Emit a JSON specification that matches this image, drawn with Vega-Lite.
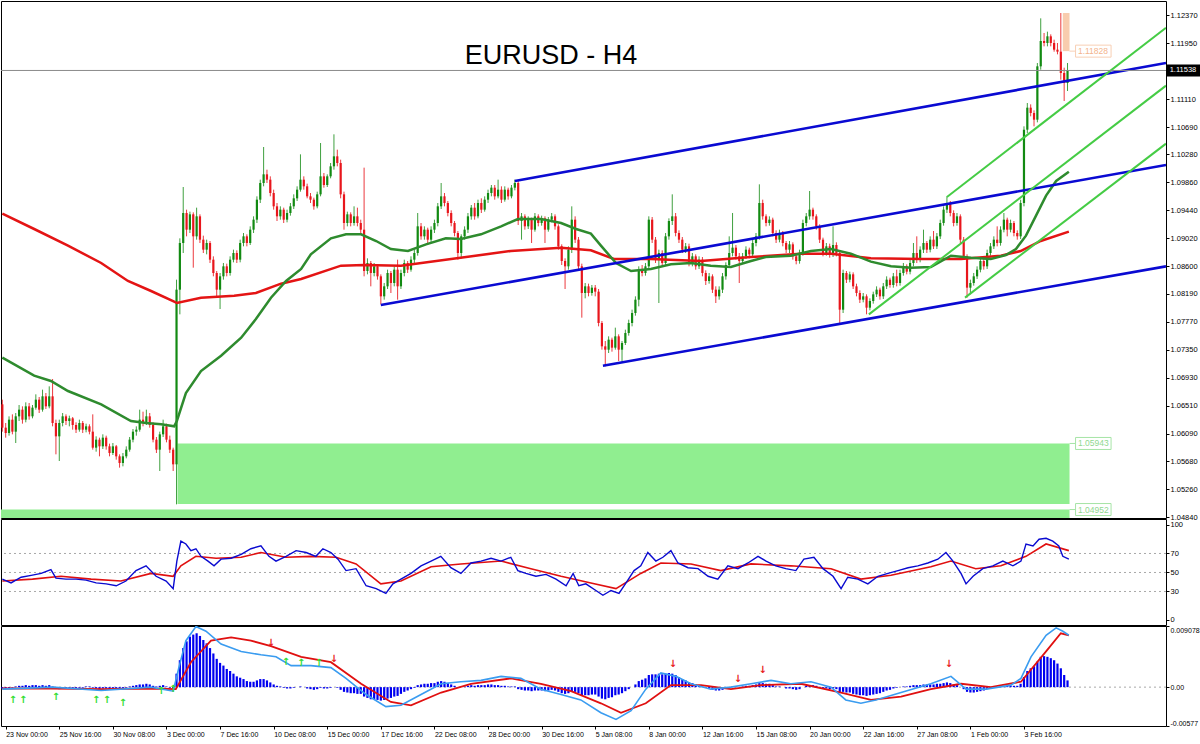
{
"$schema":"https://vega.github.io/schema/vega-lite/v6.json",
"padding":0,
"background":"white",
"spacing":1,
"bounds":"flush",
"config":{"view":{"stroke":"#000000","strokeWidth":1},"axis":{"labelFont":"Liberation Sans","labelColor":"#000000","tickColor":"#000000","grid":false,"domain":false},"text":{"font":"Liberation Sans"}},
"datasets":{
"c":[
{"i":0,"o":1.0653,"h":1.0660,"l":1.0612,"c":1.0618},{"i":1,"o":1.0618,"h":1.0625,"l":1.0603,"c":1.0610},{"i":2,"o":1.0610,"h":1.0635,"l":1.0606,"c":1.0630},{"i":3,"o":1.0630,"h":1.0638,"l":1.0608,"c":1.0612},{"i":4,"o":1.0612,"h":1.0640,"l":1.0595,"c":1.0635},{"i":5,"o":1.0635,"h":1.0652,"l":1.0628,"c":1.0645},{"i":6,"o":1.0645,"h":1.0650,"l":1.0624,"c":1.0630},{"i":7,"o":1.0630,"h":1.0656,"l":1.0626,"c":1.0650},{"i":8,"o":1.0650,"h":1.0655,"l":1.0630,"c":1.0635},{"i":9,"o":1.0635,"h":1.0652,"l":1.0632,"c":1.0648},
{"i":10,"o":1.0648,"h":1.0668,"l":1.0645,"c":1.0660},{"i":11,"o":1.0660,"h":1.0664,"l":1.0640,"c":1.0645},{"i":12,"o":1.0645,"h":1.0675,"l":1.0642,"c":1.0665},{"i":13,"o":1.0665,"h":1.0670,"l":1.0646,"c":1.0650},{"i":14,"o":1.0650,"h":1.0680,"l":1.0647,"c":1.0665},{"i":15,"o":1.0665,"h":1.0691,"l":1.0620,"c":1.0625},{"i":16,"o":1.0625,"h":1.0630,"l":1.0578,"c":1.0605},{"i":17,"o":1.0605,"h":1.0630,"l":1.0568,"c":1.0625},{"i":18,"o":1.0625,"h":1.0640,"l":1.0620,"c":1.0635},{"i":19,"o":1.0635,"h":1.0638,"l":1.0622,"c":1.0628},
{"i":20,"o":1.0628,"h":1.0636,"l":1.0620,"c":1.0632},{"i":21,"o":1.0632,"h":1.0634,"l":1.0615,"c":1.0622},{"i":22,"o":1.0622,"h":1.0626,"l":1.0610,"c":1.0615},{"i":23,"o":1.0615,"h":1.0630,"l":1.0612,"c":1.0625},{"i":24,"o":1.0625,"h":1.0628,"l":1.0610,"c":1.0615},{"i":25,"o":1.0615,"h":1.0624,"l":1.0611,"c":1.0620},{"i":26,"o":1.0620,"h":1.0623,"l":1.0608,"c":1.0612},{"i":27,"o":1.0612,"h":1.0638,"l":1.0585,"c":1.0588},{"i":28,"o":1.0588,"h":1.0605,"l":1.0582,"c":1.0600},{"i":29,"o":1.0600,"h":1.0603,"l":1.0575,"c":1.0590},
{"i":30,"o":1.0590,"h":1.0608,"l":1.0586,"c":1.0603},{"i":31,"o":1.0603,"h":1.0606,"l":1.0585,"c":1.0590},{"i":32,"o":1.0590,"h":1.0594,"l":1.0575,"c":1.0580},{"i":33,"o":1.0580,"h":1.0595,"l":1.0577,"c":1.0590},{"i":34,"o":1.0590,"h":1.0592,"l":1.0570,"c":1.0575},{"i":35,"o":1.0575,"h":1.0578,"l":1.0558,"c":1.0565},{"i":36,"o":1.0565,"h":1.0580,"l":1.0560,"c":1.0575},{"i":37,"o":1.0575,"h":1.0590,"l":1.0572,"c":1.0585},{"i":38,"o":1.0585,"h":1.0604,"l":1.0582,"c":1.0600},{"i":39,"o":1.0600,"h":1.0616,"l":1.0596,"c":1.0612},
{"i":40,"o":1.0612,"h":1.0620,"l":1.0606,"c":1.0615},{"i":41,"o":1.0615,"h":1.0645,"l":1.0612,"c":1.0630},{"i":42,"o":1.0630,"h":1.0642,"l":1.0620,"c":1.0625},{"i":43,"o":1.0625,"h":1.0645,"l":1.0622,"c":1.0635},{"i":44,"o":1.0635,"h":1.0640,"l":1.0618,"c":1.0622},{"i":45,"o":1.0622,"h":1.0626,"l":1.0596,"c":1.0600},{"i":46,"o":1.0600,"h":1.0604,"l":1.0580,"c":1.0585},{"i":47,"o":1.0585,"h":1.0612,"l":1.0553,"c":1.0608},{"i":48,"o":1.0608,"h":1.0630,"l":1.0604,"c":1.0620},{"i":49,"o":1.0620,"h":1.0624,"l":1.0596,"c":1.0600},
{"i":50,"o":1.0600,"h":1.0606,"l":1.0580,"c":1.0585},{"i":51,"o":1.0585,"h":1.0588,"l":1.0553,"c":1.0563},{"i":52,"o":1.0563,"h":1.0840,"l":1.0503,"c":1.0825},{"i":53,"o":1.0825,"h":1.0902,"l":1.0788,"c":1.0895},{"i":54,"o":1.0895,"h":1.0979,"l":1.0880,"c":1.0940},{"i":55,"o":1.0940,"h":1.0945,"l":1.0905,"c":1.0915},{"i":56,"o":1.0915,"h":1.0942,"l":1.0910,"c":1.0938},{"i":57,"o":1.0938,"h":1.0941,"l":1.0858,"c":1.0905},{"i":58,"o":1.0905,"h":1.0948,"l":1.0900,"c":1.0935},{"i":59,"o":1.0935,"h":1.0938,"l":1.0895,"c":1.0900},
{"i":60,"o":1.0900,"h":1.0906,"l":1.0880,"c":1.0885},{"i":61,"o":1.0885,"h":1.0900,"l":1.0878,"c":1.0895},{"i":62,"o":1.0895,"h":1.0898,"l":1.0865,"c":1.0870},{"i":63,"o":1.0870,"h":1.0875,"l":1.0845,"c":1.0850},{"i":64,"o":1.0850,"h":1.0853,"l":1.0815,"c":1.0825},{"i":65,"o":1.0825,"h":1.0850,"l":1.0796,"c":1.0845},{"i":66,"o":1.0845,"h":1.0865,"l":1.0840,"c":1.0860},{"i":67,"o":1.0860,"h":1.0864,"l":1.0845,"c":1.0850},{"i":68,"o":1.0850,"h":1.0875,"l":1.0846,"c":1.0870},{"i":69,"o":1.0870,"h":1.0885,"l":1.0866,"c":1.0880},
{"i":70,"o":1.0880,"h":1.0884,"l":1.0865,"c":1.0870},{"i":71,"o":1.0870,"h":1.0900,"l":1.0866,"c":1.0895},{"i":72,"o":1.0895,"h":1.0910,"l":1.0890,"c":1.0905},{"i":73,"o":1.0905,"h":1.0908,"l":1.0890,"c":1.0895},{"i":74,"o":1.0895,"h":1.0920,"l":1.0892,"c":1.0915},{"i":75,"o":1.0915,"h":1.0935,"l":1.0910,"c":1.0930},{"i":76,"o":1.0930,"h":1.0965,"l":1.0925,"c":1.0960},{"i":77,"o":1.0960,"h":1.0990,"l":1.0955,"c":1.0985},{"i":78,"o":1.0985,"h":1.1039,"l":1.0980,"c":1.0998},{"i":79,"o":1.0998,"h":1.1005,"l":1.0985,"c":1.0990},
{"i":80,"o":1.0990,"h":1.0995,"l":1.0965,"c":1.0970},{"i":81,"o":1.0970,"h":1.0975,"l":1.0945,"c":1.0950},{"i":82,"o":1.0950,"h":1.0955,"l":1.0928,"c":1.0935},{"i":83,"o":1.0935,"h":1.0950,"l":1.0930,"c":1.0945},{"i":84,"o":1.0945,"h":1.0948,"l":1.0925,"c":1.0930},{"i":85,"o":1.0930,"h":1.0945,"l":1.0926,"c":1.0940},{"i":86,"o":1.0940,"h":1.0955,"l":1.0936,"c":1.0950},{"i":87,"o":1.0950,"h":1.0968,"l":1.0946,"c":1.0962},{"i":88,"o":1.0962,"h":1.0980,"l":1.0958,"c":1.0975},{"i":89,"o":1.0975,"h":1.1028,"l":1.0972,"c":1.0990},
{"i":90,"o":1.0990,"h":1.0995,"l":1.0975,"c":1.0980},{"i":91,"o":1.0980,"h":1.0984,"l":1.0962,"c":1.0965},{"i":92,"o":1.0965,"h":1.0970,"l":1.0955,"c":1.0960},{"i":93,"o":1.0960,"h":1.0963,"l":1.0945,"c":1.0950},{"i":94,"o":1.0950,"h":1.0972,"l":1.0947,"c":1.0968},{"i":95,"o":1.0968,"h":1.1045,"l":1.0965,"c":1.0995},{"i":96,"o":1.0995,"h":1.1000,"l":1.0978,"c":1.0982},{"i":97,"o":1.0982,"h":1.0998,"l":1.0979,"c":1.0995},{"i":98,"o":1.0995,"h":1.1015,"l":1.0992,"c":1.1010},{"i":99,"o":1.1010,"h":1.1058,"l":1.1005,"c":1.1025},
{"i":100,"o":1.1025,"h":1.1035,"l":1.1010,"c":1.1015},{"i":101,"o":1.1015,"h":1.1020,"l":1.0962,"c":1.0968},{"i":102,"o":1.0968,"h":1.0972,"l":1.0915,"c":1.0925},{"i":103,"o":1.0925,"h":1.0942,"l":1.0920,"c":1.0938},{"i":104,"o":1.0938,"h":1.0941,"l":1.0920,"c":1.0925},{"i":105,"o":1.0925,"h":1.0950,"l":1.0921,"c":1.0935},{"i":106,"o":1.0935,"h":1.0948,"l":1.0920,"c":1.0925},{"i":107,"o":1.0925,"h":1.0930,"l":1.0910,"c":1.0915},{"i":108,"o":1.0915,"h":1.1008,"l":1.0845,"c":1.0853},{"i":109,"o":1.0853,"h":1.0872,"l":1.0848,"c":1.0865},
{"i":110,"o":1.0865,"h":1.0868,"l":1.0830,"c":1.0850},{"i":111,"o":1.0850,"h":1.0865,"l":1.0845,"c":1.0860},{"i":112,"o":1.0860,"h":1.0863,"l":1.0840,"c":1.0845},{"i":113,"o":1.0845,"h":1.0848,"l":1.0803,"c":1.0815},{"i":114,"o":1.0815,"h":1.0835,"l":1.0810,"c":1.0830},{"i":115,"o":1.0830,"h":1.0855,"l":1.0826,"c":1.0850},{"i":116,"o":1.0850,"h":1.0853,"l":1.0820,"c":1.0835},{"i":117,"o":1.0835,"h":1.0860,"l":1.0830,"c":1.0855},{"i":118,"o":1.0855,"h":1.0870,"l":1.0810,"c":1.0830},{"i":119,"o":1.0830,"h":1.0855,"l":1.0826,"c":1.0850},
{"i":120,"o":1.0850,"h":1.0870,"l":1.0845,"c":1.0865},{"i":121,"o":1.0865,"h":1.0868,"l":1.0850,"c":1.0855},{"i":122,"o":1.0855,"h":1.0875,"l":1.0852,"c":1.0870},{"i":123,"o":1.0870,"h":1.0885,"l":1.0865,"c":1.0880},{"i":124,"o":1.0880,"h":1.0940,"l":1.0876,"c":1.0920},{"i":125,"o":1.0920,"h":1.0925,"l":1.0900,"c":1.0905},{"i":126,"o":1.0905,"h":1.0920,"l":1.0900,"c":1.0915},{"i":127,"o":1.0915,"h":1.0918,"l":1.0895,"c":1.0900},{"i":128,"o":1.0900,"h":1.0920,"l":1.0896,"c":1.0915},{"i":129,"o":1.0915,"h":1.0930,"l":1.0910,"c":1.0925},
{"i":130,"o":1.0925,"h":1.0955,"l":1.0920,"c":1.0950},{"i":131,"o":1.0950,"h":1.0985,"l":1.0946,"c":1.0965},{"i":132,"o":1.0965,"h":1.0970,"l":1.0950,"c":1.0955},{"i":133,"o":1.0955,"h":1.0958,"l":1.0935,"c":1.0940},{"i":134,"o":1.0940,"h":1.0944,"l":1.0920,"c":1.0925},{"i":135,"o":1.0925,"h":1.0928,"l":1.0905,"c":1.0910},{"i":136,"o":1.0910,"h":1.0913,"l":1.0870,"c":1.0880},{"i":137,"o":1.0880,"h":1.0908,"l":1.0872,"c":1.0905},{"i":138,"o":1.0905,"h":1.0920,"l":1.0900,"c":1.0915},{"i":139,"o":1.0915,"h":1.0940,"l":1.0910,"c":1.0935},
{"i":140,"o":1.0935,"h":1.0952,"l":1.0930,"c":1.0948},{"i":141,"o":1.0948,"h":1.0955,"l":1.0930,"c":1.0935},{"i":142,"o":1.0935,"h":1.0960,"l":1.0932,"c":1.0955},{"i":143,"o":1.0955,"h":1.0962,"l":1.0940,"c":1.0945},{"i":144,"o":1.0945,"h":1.0965,"l":1.0942,"c":1.0960},{"i":145,"o":1.0960,"h":1.0975,"l":1.0955,"c":1.0970},{"i":146,"o":1.0970,"h":1.0982,"l":1.0965,"c":1.0978},{"i":147,"o":1.0978,"h":1.0982,"l":1.0960,"c":1.0965},{"i":148,"o":1.0965,"h":1.0990,"l":1.0962,"c":1.0975},{"i":149,"o":1.0975,"h":1.0980,"l":1.0955,"c":1.0960},
{"i":150,"o":1.0960,"h":1.0980,"l":1.0957,"c":1.0975},{"i":151,"o":1.0975,"h":1.0978,"l":1.0960,"c":1.0965},{"i":152,"o":1.0965,"h":1.0982,"l":1.0962,"c":1.0978},{"i":153,"o":1.0978,"h":1.0990,"l":1.0974,"c":1.0985},{"i":154,"o":1.0985,"h":1.0988,"l":1.0922,"c":1.0928},{"i":155,"o":1.0928,"h":1.0940,"l":1.0900,"c":1.0935},{"i":156,"o":1.0935,"h":1.0938,"l":1.0915,"c":1.0920},{"i":157,"o":1.0920,"h":1.0935,"l":1.0916,"c":1.0930},{"i":158,"o":1.0930,"h":1.0933,"l":1.0895,"c":1.0915},{"i":159,"o":1.0915,"h":1.0940,"l":1.0912,"c":1.0935},
{"i":160,"o":1.0935,"h":1.0938,"l":1.0920,"c":1.0925},{"i":161,"o":1.0925,"h":1.0936,"l":1.0921,"c":1.0932},{"i":162,"o":1.0932,"h":1.0935,"l":1.0895,"c":1.0915},{"i":163,"o":1.0915,"h":1.0934,"l":1.0912,"c":1.0930},{"i":164,"o":1.0930,"h":1.0940,"l":1.0926,"c":1.0935},{"i":165,"o":1.0935,"h":1.0938,"l":1.0915,"c":1.0920},{"i":166,"o":1.0920,"h":1.0923,"l":1.0885,"c":1.0890},{"i":167,"o":1.0890,"h":1.0893,"l":1.0862,"c":1.0868},{"i":168,"o":1.0868,"h":1.0872,"l":1.0826,"c":1.0860},{"i":169,"o":1.0860,"h":1.0890,"l":1.0855,"c":1.0885},
{"i":170,"o":1.0885,"h":1.0950,"l":1.0880,"c":1.0930},{"i":171,"o":1.0930,"h":1.0935,"l":1.0895,"c":1.0900},{"i":172,"o":1.0900,"h":1.0904,"l":1.0855,"c":1.0860},{"i":173,"o":1.0860,"h":1.0864,"l":1.0783,"c":1.0820},{"i":174,"o":1.0820,"h":1.0835,"l":1.0812,"c":1.0830},{"i":175,"o":1.0830,"h":1.0834,"l":1.0815,"c":1.0820},{"i":176,"o":1.0820,"h":1.0832,"l":1.0816,"c":1.0828},{"i":177,"o":1.0828,"h":1.0832,"l":1.0815,"c":1.0822},{"i":178,"o":1.0822,"h":1.0826,"l":1.0770,"c":1.0775},{"i":179,"o":1.0775,"h":1.0778,"l":1.0735,"c":1.0740},
{"i":180,"o":1.0740,"h":1.0748,"l":1.0710,"c":1.0735},{"i":181,"o":1.0735,"h":1.0755,"l":1.0730,"c":1.0750},{"i":182,"o":1.0750,"h":1.0753,"l":1.0732,"c":1.0738},{"i":183,"o":1.0738,"h":1.0768,"l":1.0735,"c":1.0755},{"i":184,"o":1.0755,"h":1.0758,"l":1.0718,"c":1.0735},{"i":185,"o":1.0735,"h":1.0748,"l":1.0717,"c":1.0745},{"i":186,"o":1.0745,"h":1.0765,"l":1.0742,"c":1.0760},{"i":187,"o":1.0760,"h":1.0780,"l":1.0756,"c":1.0775},{"i":188,"o":1.0775,"h":1.0795,"l":1.0770,"c":1.0790},{"i":189,"o":1.0790,"h":1.0815,"l":1.0786,"c":1.0810},
{"i":190,"o":1.0810,"h":1.0860,"l":1.0800,"c":1.0855},{"i":191,"o":1.0855,"h":1.0862,"l":1.0845,"c":1.0850},{"i":192,"o":1.0850,"h":1.0865,"l":1.0846,"c":1.0860},{"i":193,"o":1.0860,"h":1.0935,"l":1.0856,"c":1.0930},{"i":194,"o":1.0930,"h":1.0934,"l":1.0895,"c":1.0900},{"i":195,"o":1.0900,"h":1.0904,"l":1.0865,"c":1.0870},{"i":196,"o":1.0870,"h":1.0885,"l":1.0805,"c":1.0880},{"i":197,"o":1.0880,"h":1.0884,"l":1.0860,"c":1.0865},{"i":198,"o":1.0865,"h":1.0910,"l":1.0862,"c":1.0905},{"i":199,"o":1.0905,"h":1.0932,"l":1.0900,"c":1.0928},
{"i":200,"o":1.0928,"h":1.0968,"l":1.0922,"c":1.0935},{"i":201,"o":1.0935,"h":1.0940,"l":1.0905,"c":1.0910},{"i":202,"o":1.0910,"h":1.0914,"l":1.0895,"c":1.0900},{"i":203,"o":1.0900,"h":1.0904,"l":1.0880,"c":1.0885},{"i":204,"o":1.0885,"h":1.0895,"l":1.0880,"c":1.0890},{"i":205,"o":1.0890,"h":1.0894,"l":1.0860,"c":1.0865},{"i":206,"o":1.0865,"h":1.0880,"l":1.0860,"c":1.0875},{"i":207,"o":1.0875,"h":1.0878,"l":1.0855,"c":1.0860},{"i":208,"o":1.0860,"h":1.0875,"l":1.0856,"c":1.0870},{"i":209,"o":1.0870,"h":1.0874,"l":1.0845,"c":1.0850},
{"i":210,"o":1.0850,"h":1.0854,"l":1.0832,"c":1.0838},{"i":211,"o":1.0838,"h":1.0850,"l":1.0834,"c":1.0845},{"i":212,"o":1.0845,"h":1.0848,"l":1.0820,"c":1.0825},{"i":213,"o":1.0825,"h":1.0830,"l":1.0805,"c":1.0815},{"i":214,"o":1.0815,"h":1.0830,"l":1.0810,"c":1.0825},{"i":215,"o":1.0825,"h":1.0850,"l":1.0820,"c":1.0845},{"i":216,"o":1.0845,"h":1.0866,"l":1.0840,"c":1.0862},{"i":217,"o":1.0862,"h":1.0905,"l":1.0858,"c":1.0880},{"i":218,"o":1.0880,"h":1.0940,"l":1.0875,"c":1.0888},{"i":219,"o":1.0888,"h":1.0892,"l":1.0870,"c":1.0875},
{"i":220,"o":1.0875,"h":1.0880,"l":1.0835,"c":1.0868},{"i":221,"o":1.0868,"h":1.0880,"l":1.0864,"c":1.0875},{"i":222,"o":1.0875,"h":1.0890,"l":1.0871,"c":1.0885},{"i":223,"o":1.0885,"h":1.0888,"l":1.0872,"c":1.0878},{"i":224,"o":1.0878,"h":1.0900,"l":1.0874,"c":1.0895},{"i":225,"o":1.0895,"h":1.0910,"l":1.0890,"c":1.0905},{"i":226,"o":1.0905,"h":1.0983,"l":1.0900,"c":1.0955},{"i":227,"o":1.0955,"h":1.0960,"l":1.0930,"c":1.0935},{"i":228,"o":1.0935,"h":1.0938,"l":1.0920,"c":1.0925},{"i":229,"o":1.0925,"h":1.0935,"l":1.0921,"c":1.0930},
{"i":230,"o":1.0930,"h":1.0933,"l":1.0905,"c":1.0910},{"i":231,"o":1.0910,"h":1.0914,"l":1.0895,"c":1.0900},{"i":232,"o":1.0900,"h":1.0915,"l":1.0896,"c":1.0910},{"i":233,"o":1.0910,"h":1.0913,"l":1.0890,"c":1.0895},{"i":234,"o":1.0895,"h":1.0898,"l":1.0880,"c":1.0885},{"i":235,"o":1.0885,"h":1.0898,"l":1.0880,"c":1.0893},{"i":236,"o":1.0893,"h":1.0896,"l":1.0870,"c":1.0875},{"i":237,"o":1.0875,"h":1.0880,"l":1.0863,"c":1.0868},{"i":238,"o":1.0868,"h":1.0885,"l":1.0864,"c":1.0880},{"i":239,"o":1.0880,"h":1.0930,"l":1.0876,"c":1.0925},
{"i":240,"o":1.0925,"h":1.0940,"l":1.0920,"c":1.0935},{"i":241,"o":1.0935,"h":1.0973,"l":1.0930,"c":1.0945},{"i":242,"o":1.0945,"h":1.0948,"l":1.0930,"c":1.0935},{"i":243,"o":1.0935,"h":1.0938,"l":1.0915,"c":1.0920},{"i":244,"o":1.0920,"h":1.0923,"l":1.0895,"c":1.0900},{"i":245,"o":1.0900,"h":1.0903,"l":1.0875,"c":1.0880},{"i":246,"o":1.0880,"h":1.0895,"l":1.0876,"c":1.0890},{"i":247,"o":1.0890,"h":1.0894,"l":1.0873,"c":1.0878},{"i":248,"o":1.0878,"h":1.0920,"l":1.0874,"c":1.0892},{"i":249,"o":1.0892,"h":1.0896,"l":1.0875,"c":1.0880},
{"i":250,"o":1.0880,"h":1.0884,"l":1.0775,"c":1.0795},{"i":251,"o":1.0795,"h":1.0855,"l":1.0790,"c":1.0850},{"i":252,"o":1.0850,"h":1.0853,"l":1.0835,"c":1.0840},{"i":253,"o":1.0840,"h":1.0852,"l":1.0836,"c":1.0848},{"i":254,"o":1.0848,"h":1.0851,"l":1.0826,"c":1.0830},{"i":255,"o":1.0830,"h":1.0834,"l":1.0815,"c":1.0820},{"i":256,"o":1.0820,"h":1.0824,"l":1.0805,"c":1.0810},{"i":257,"o":1.0810,"h":1.0820,"l":1.0806,"c":1.0815},{"i":258,"o":1.0815,"h":1.0818,"l":1.0788,"c":1.0798},{"i":259,"o":1.0798,"h":1.0812,"l":1.0794,"c":1.0808},
{"i":260,"o":1.0808,"h":1.0822,"l":1.0804,"c":1.0818},{"i":261,"o":1.0818,"h":1.0830,"l":1.0814,"c":1.0825},{"i":262,"o":1.0825,"h":1.0828,"l":1.0810,"c":1.0815},{"i":263,"o":1.0815,"h":1.0835,"l":1.0811,"c":1.0830},{"i":264,"o":1.0830,"h":1.0845,"l":1.0826,"c":1.0840},{"i":265,"o":1.0840,"h":1.0843,"l":1.0828,"c":1.0832},{"i":266,"o":1.0832,"h":1.0850,"l":1.0828,"c":1.0845},{"i":267,"o":1.0845,"h":1.0855,"l":1.0830,"c":1.0835},{"i":268,"o":1.0835,"h":1.0855,"l":1.0831,"c":1.0850},{"i":269,"o":1.0850,"h":1.0865,"l":1.0846,"c":1.0860},
{"i":270,"o":1.0860,"h":1.0863,"l":1.0848,"c":1.0852},{"i":271,"o":1.0852,"h":1.0870,"l":1.0848,"c":1.0865},{"i":272,"o":1.0865,"h":1.0895,"l":1.0860,"c":1.0880},{"i":273,"o":1.0880,"h":1.0905,"l":1.0865,"c":1.0870},{"i":274,"o":1.0870,"h":1.0890,"l":1.0866,"c":1.0885},{"i":275,"o":1.0885,"h":1.0915,"l":1.0880,"c":1.0895},{"i":276,"o":1.0895,"h":1.0898,"l":1.0880,"c":1.0885},{"i":277,"o":1.0885,"h":1.0905,"l":1.0881,"c":1.0900},{"i":278,"o":1.0900,"h":1.0913,"l":1.0886,"c":1.0890},{"i":279,"o":1.0890,"h":1.0910,"l":1.0886,"c":1.0905},
{"i":280,"o":1.0905,"h":1.0930,"l":1.0901,"c":1.0925},{"i":281,"o":1.0925,"h":1.0950,"l":1.0921,"c":1.0945},{"i":282,"o":1.0945,"h":1.0965,"l":1.0940,"c":1.0955},{"i":283,"o":1.0955,"h":1.0958,"l":1.0935,"c":1.0940},{"i":284,"o":1.0940,"h":1.0944,"l":1.0920,"c":1.0925},{"i":285,"o":1.0925,"h":1.0940,"l":1.0921,"c":1.0935},{"i":286,"o":1.0935,"h":1.0938,"l":1.0895,"c":1.0900},{"i":287,"o":1.0900,"h":1.0904,"l":1.0870,"c":1.0875},{"i":288,"o":1.0875,"h":1.0878,"l":1.0813,"c":1.0828},{"i":289,"o":1.0828,"h":1.0840,"l":1.0818,"c":1.0835},
{"i":290,"o":1.0835,"h":1.0850,"l":1.0831,"c":1.0845},{"i":291,"o":1.0845,"h":1.0860,"l":1.0841,"c":1.0855},{"i":292,"o":1.0855,"h":1.0872,"l":1.0851,"c":1.0868},{"i":293,"o":1.0868,"h":1.0871,"l":1.0855,"c":1.0860},{"i":294,"o":1.0860,"h":1.0885,"l":1.0856,"c":1.0880},{"i":295,"o":1.0880,"h":1.0895,"l":1.0876,"c":1.0890},{"i":296,"o":1.0890,"h":1.0905,"l":1.0886,"c":1.0900},{"i":297,"o":1.0900,"h":1.0920,"l":1.0890,"c":1.0895},{"i":298,"o":1.0895,"h":1.0920,"l":1.0891,"c":1.0915},{"i":299,"o":1.0915,"h":1.0940,"l":1.0911,"c":1.0930},
{"i":300,"o":1.0930,"h":1.0933,"l":1.0905,"c":1.0915},{"i":301,"o":1.0915,"h":1.0930,"l":1.0911,"c":1.0925},{"i":302,"o":1.0925,"h":1.0928,"l":1.0905,"c":1.0910},{"i":303,"o":1.0910,"h":1.0914,"l":1.0900,"c":1.0905},{"i":304,"o":1.0905,"h":1.0960,"l":1.0901,"c":1.0955},{"i":305,"o":1.0955,"h":1.1070,"l":1.0950,"c":1.1065},{"i":306,"o":1.1065,"h":1.1105,"l":1.1060,"c":1.1098},{"i":307,"o":1.1098,"h":1.1103,"l":1.1085,"c":1.1090},{"i":308,"o":1.1090,"h":1.1094,"l":1.1070,"c":1.1080},{"i":309,"o":1.1080,"h":1.1165,"l":1.1076,"c":1.1160},
{"i":310,"o":1.1160,"h":1.1232,"l":1.1155,"c":1.1198},{"i":311,"o":1.1198,"h":1.1210,"l":1.1190,"c":1.1195},{"i":312,"o":1.1195,"h":1.1212,"l":1.1190,"c":1.1205},{"i":313,"o":1.1205,"h":1.1208,"l":1.1190,"c":1.1195},{"i":314,"o":1.1195,"h":1.1200,"l":1.1182,"c":1.1185},{"i":315,"o":1.1185,"h":1.1195,"l":1.1178,"c":1.1182},{"i":316,"o":1.1182,"h":1.1240,"l":1.1140,"c":1.1150},{"i":317,"o":1.1150,"h":1.1158,"l":1.1108,"c":1.1135},{"i":318,"o":1.1135,"h":1.1165,"l":1.1123,"c":1.1154}
],
"mar":[{"i":0,"p":1.0939},{"i":9.5,"p":1.0916},{"i":19.6,"p":1.0891},{"i":29.5,"p":1.0865},{"i":37.5,"p":1.0838},{"i":44.4,"p":1.0823},{"i":51.3,"p":1.0807},{"i":52.1,"p":1.0805},{"i":59.3,"p":1.0813},{"i":69.2,"p":1.0816},{"i":75.7,"p":1.082},{"i":83.2,"p":1.0834},{"i":89.2,"p":1.0841},{"i":101.1,"p":1.0861},{"i":108,"p":1.0862},{"i":119,"p":1.0861},{"i":134,"p":1.0871},{"i":151.8,"p":1.0883},{"i":166.8,"p":1.0888},{"i":175.7,"p":1.0884},{"i":182.6,"p":1.0871},{"i":193.6,"p":1.0871},{"i":208.6,"p":1.0868},{"i":223.5,"p":1.0874},{"i":238.4,"p":1.0879},{"i":247.4,"p":1.0879},{"i":259.3,"p":1.0872},{"i":274.2,"p":1.0871},{"i":286.2,"p":1.0871},{"i":298.1,"p":1.0876},{"i":304,"p":1.0883},{"i":310,"p":1.0898},{"i":318.4,"p":1.0912}],
"mag":[{"i":0,"p":1.0723},{"i":9.5,"p":1.0696},{"i":14.5,"p":1.0688},{"i":19.6,"p":1.0673},{"i":29.5,"p":1.0653},{"i":38.4,"p":1.0628},{"i":42.9,"p":1.0625},{"i":47.4,"p":1.0623},{"i":51.3,"p":1.062},{"i":52.1,"p":1.0628},{"i":54.8,"p":1.067},{"i":59.3,"p":1.0703},{"i":65.3,"p":1.0726},{"i":71.3,"p":1.0753},{"i":75.7,"p":1.0781},{"i":80.2,"p":1.0813},{"i":84.7,"p":1.0838},{"i":89.2,"p":1.0856},{"i":92.1,"p":1.0878},{"i":98.1,"p":1.0902},{"i":102.6,"p":1.0908},{"i":107.1,"p":1.0908},{"i":111.6,"p":1.0898},{"i":116,"p":1.0886},{"i":121.1,"p":1.0883},{"i":126.5,"p":1.0893},{"i":132.4,"p":1.0902},{"i":136.9,"p":1.0901},{"i":142.9,"p":1.0908},{"i":148.9,"p":1.092},{"i":153.9,"p":1.0931},{"i":160.8,"p":1.0931},{"i":166.8,"p":1.0925},{"i":171.3,"p":1.0916},{"i":175.7,"p":1.0909},{"i":178.7,"p":1.0891},{"i":183.2,"p":1.0865},{"i":187.7,"p":1.0853},{"i":193.6,"p":1.0856},{"i":199.6,"p":1.0863},{"i":205.6,"p":1.0865},{"i":211.5,"p":1.0861},{"i":217.5,"p":1.0859},{"i":223.5,"p":1.0868},{"i":227.9,"p":1.0874},{"i":235.4,"p":1.0876},{"i":241.4,"p":1.0883},{"i":247.4,"p":1.0886},{"i":253.3,"p":1.0879},{"i":259.3,"p":1.0867},{"i":265.3,"p":1.086},{"i":271.3,"p":1.0858},{"i":277.2,"p":1.0859},{"i":283.2,"p":1.0876},{"i":289.2,"p":1.0873},{"i":295.1,"p":1.0871},{"i":299.6,"p":1.0877},{"i":302.6,"p":1.0886},{"i":305.6,"p":1.0906},{"i":308.6,"p":1.0936},{"i":311.6,"p":1.0966},{"i":314.6,"p":1.0988},{"i":318.4,"p":1.1002}],
"chb":[{"x1":153,"y1":1.0988,"x2":347.4,"y2":1.1165},{"x1":113,"y1":1.0802,"x2":347.4,"y2":1.1012},{"x1":179.3,"y1":1.0711,"x2":347.4,"y2":1.086}],
"chg":[{"x1":282,"y1":1.0964,"x2":347.4,"y2":1.1218},{"x1":258.7,"y1":1.0788,"x2":347.4,"y2":1.1131},{"x1":287.4,"y1":1.0813,"x2":347.4,"y2":1.1044}],
"zones":[{"x1":52.3,"x2":318.6,"y1":1.05035,"y2":1.05943},{"x1":-0.4,"x2":318.6,"y1":1.047,"y2":1.04952}],
"zlab":[{"i":320.8,"p":1.05943,"t":"1.05943"},{"i":320.8,"p":1.04952,"t":"1.04952"}],
"zbox":[{"x1":320.4,"x2":331,"y1":1.05853,"y2":1.06033},{"x1":320.4,"x2":331,"y1":1.04862,"y2":1.05042}],
"zcon":[{"x1":318.6,"x2":320.4,"p":1.05943},{"x1":318.6,"x2":320.4,"p":1.04952}],
"olab":[{"i":320.8,"p":1.11828,"t":"1.11828"}],
"obox":[{"x1":320.4,"x2":331,"y1":1.11738,"y2":1.11918}],
"ocon":[{"x1":318.6,"x2":320.4,"p":1.11828}],
"rsi":[{"i":0,"v":43},{"i":2.6,"v":39},{"i":5.6,"v":45},{"i":8.6,"v":47},{"i":11.6,"v":49},{"i":14.5,"v":53},{"i":16,"v":44},{"i":19,"v":43},{"i":22,"v":43},{"i":25,"v":42},{"i":28,"v":39},{"i":31,"v":38},{"i":34,"v":36},{"i":36.9,"v":41},{"i":39.9,"v":52},{"i":42.9,"v":57},{"i":45.9,"v":46},{"i":48.9,"v":41},{"i":51,"v":33},{"i":52.1,"v":62},{"i":53.3,"v":83},{"i":54.8,"v":80},{"i":56.3,"v":73},{"i":57.8,"v":75},{"i":59.3,"v":67},{"i":61.4,"v":62},{"i":63.2,"v":57},{"i":65.3,"v":64},{"i":68.3,"v":65},{"i":71.3,"v":69},{"i":74.2,"v":75},{"i":77.2,"v":78},{"i":79.6,"v":67},{"i":81.7,"v":62},{"i":84.7,"v":67},{"i":87.7,"v":73},{"i":90.7,"v":71},{"i":93.6,"v":67},{"i":95.7,"v":75},{"i":98.1,"v":71},{"i":100.2,"v":64},{"i":102.6,"v":52},{"i":105.6,"v":54},{"i":108.6,"v":36},{"i":111.6,"v":33},{"i":114.5,"v":28},{"i":116.6,"v":38},{"i":119,"v":43},{"i":122,"v":49},{"i":125,"v":57},{"i":128,"v":62},{"i":130.9,"v":67},{"i":133.9,"v":55},{"i":136.9,"v":49},{"i":139.9,"v":60},{"i":142.9,"v":62},{"i":145.9,"v":65},{"i":148.9,"v":62},{"i":151.8,"v":66},{"i":153.9,"v":52},{"i":156.3,"v":49},{"i":159.3,"v":46},{"i":162.3,"v":48},{"i":165.3,"v":43},{"i":168.3,"v":36},{"i":170.4,"v":49},{"i":172.1,"v":36},{"i":174.2,"v":38},{"i":177.2,"v":31},{"i":179.3,"v":26},{"i":181.7,"v":31},{"i":184.1,"v":28},{"i":186.2,"v":39},{"i":188.6,"v":52},{"i":190.6,"v":57},{"i":192.7,"v":71},{"i":195.1,"v":62},{"i":197.2,"v":66},{"i":199.6,"v":73},{"i":201.7,"v":60},{"i":204.7,"v":55},{"i":207.7,"v":54},{"i":210.7,"v":46},{"i":213.6,"v":43},{"i":216.6,"v":57},{"i":219.6,"v":54},{"i":222.6,"v":60},{"i":225.6,"v":67},{"i":228,"v":62},{"i":230.9,"v":57},{"i":233.9,"v":54},{"i":236.9,"v":52},{"i":239.3,"v":64},{"i":242.3,"v":66},{"i":245,"v":54},{"i":248,"v":46},{"i":250.4,"v":33},{"i":252.4,"v":45},{"i":255.4,"v":43},{"i":258.4,"v":38},{"i":261.4,"v":46},{"i":264.4,"v":49},{"i":267.4,"v":52},{"i":270.4,"v":55},{"i":273.3,"v":57},{"i":276.3,"v":60},{"i":279.3,"v":64},{"i":281.7,"v":71},{"i":283.8,"v":62},{"i":286.2,"v":49},{"i":287.7,"v":38},{"i":289.8,"v":46},{"i":292.7,"v":54},{"i":295.7,"v":57},{"i":298.7,"v":62},{"i":301.7,"v":57},{"i":304.1,"v":62},{"i":305.6,"v":80},{"i":307.7,"v":78},{"i":309.5,"v":85},{"i":311.6,"v":86},{"i":313.6,"v":83},{"i":315.4,"v":78},{"i":316.6,"v":67},{"i":318.4,"v":64}],
"rsis":[{"i":0,"v":41},{"i":9,"v":43},{"i":17.5,"v":46},{"i":26.5,"v":43},{"i":35.4,"v":41},{"i":44.4,"v":49},{"i":51,"v":46},{"i":53.3,"v":57},{"i":57.8,"v":67},{"i":63.8,"v":65},{"i":71.3,"v":66},{"i":77.2,"v":71},{"i":84.7,"v":66},{"i":92.1,"v":67},{"i":99.6,"v":66},{"i":105.6,"v":59},{"i":113,"v":38},{"i":119,"v":41},{"i":128,"v":56},{"i":136.9,"v":59},{"i":148.9,"v":62},{"i":157.8,"v":54},{"i":166.8,"v":46},{"i":175.7,"v":39},{"i":183.2,"v":33},{"i":190.6,"v":49},{"i":196.6,"v":60},{"i":205.6,"v":59},{"i":214.5,"v":52},{"i":223.5,"v":59},{"i":235.4,"v":57},{"i":247.4,"v":54},{"i":256.3,"v":43},{"i":265.3,"v":47},{"i":277.2,"v":56},{"i":283.2,"v":62},{"i":290.6,"v":54},{"i":298.1,"v":57},{"i":305.6,"v":67},{"i":311.6,"v":80},{"i":318.4,"v":73}],
"hist":[{"i":0,"m":-0.0002},{"i":1,"m":-0.0003},{"i":2,"m":-0.0002},{"i":3,"m":-0.0001},{"i":4,"m":0.0001},{"i":5,"m":0.0002},{"i":6,"m":0.0002},{"i":7,"m":0.0003},{"i":8,"m":0.0002},{"i":9,"m":0.0003},{"i":10,"m":0.0003},{"i":11,"m":0.0002},{"i":12,"m":0.0003},{"i":13,"m":0.0002},{"i":14,"m":0.0003},{"i":15,"m":0.0001},{"i":16,"m":-0.0002},{"i":17,"m":-0.0003},{"i":18,"m":-0.0002},{"i":19,"m":-0.0002},{"i":20,"m":-0.0001},{"i":21,"m":-0.0002},{"i":22,"m":-0.0002},{"i":23,"m":-0.0001},{"i":24,"m":-0.0001},{"i":25,"m":0.0001},{"i":26,"m":0.0001},{"i":27,"m":-0.0001},{"i":28,"m":-0.0002},{"i":29,"m":-0.0003},{"i":30,"m":-0.0002},{"i":31,"m":-0.0002},{"i":32,"m":-0.0003},{"i":33,"m":-0.0002},{"i":34,"m":-0.0003},{"i":35,"m":-0.0003},{"i":36,"m":-0.0002},{"i":37,"m":-0.0001},{"i":38,"m":0.0001},{"i":39,"m":0.0002},{"i":40,"m":0.0003},{"i":41,"m":0.0004},{"i":42,"m":0.0004},{"i":43,"m":0.0005},{"i":44,"m":0.0004},{"i":45,"m":0.0002},{"i":46,"m":0.0001},{"i":47,"m":0.0002},{"i":48,"m":0.0003},{"i":49,"m":0.0001},{"i":50,"m":-0.0001},{"i":51,"m":-0.0003},{"i":52,"m":0.002},{"i":53,"m":0.004},{"i":54,"m":0.0058},{"i":55,"m":0.0068},{"i":56,"m":0.0075},{"i":57,"m":0.0078},{"i":58,"m":0.008},{"i":59,"m":0.0076},{"i":60,"m":0.007},{"i":61,"m":0.0065},{"i":62,"m":0.0058},{"i":63,"m":0.005},{"i":64,"m":0.0042},{"i":65,"m":0.0036},{"i":66,"m":0.0032},{"i":67,"m":0.0027},{"i":68,"m":0.0024},{"i":69,"m":0.002},{"i":70,"m":0.0016},{"i":71,"m":0.0014},{"i":72,"m":0.0012},{"i":73,"m":0.0009},{"i":74,"m":0.0008},{"i":75,"m":0.0008},{"i":76,"m":0.001},{"i":77,"m":0.0012},{"i":78,"m":0.0012},{"i":79,"m":0.001},{"i":80,"m":0.0007},{"i":81,"m":0.0004},{"i":82,"m":0.0002},{"i":83,"m":0.0001},{"i":84,"m":-0.0001},{"i":85,"m":-0.0002},{"i":86,"m":-0.0002},{"i":87,"m":-0.0001},{"i":88,"m":0},{"i":89,"m":0.0001},{"i":90,"m":0},{"i":91,"m":-0.0002},{"i":92,"m":-0.0003},{"i":93,"m":-0.0004},{"i":94,"m":-0.0003},{"i":95,"m":-0.0001},{"i":96,"m":-0.0002},{"i":97,"m":-0.0002},{"i":98,"m":-0.0001},{"i":99,"m":0},{"i":100,"m":-0.0001},{"i":101,"m":-0.0004},{"i":102,"m":-0.0007},{"i":103,"m":-0.0008},{"i":104,"m":-0.0009},{"i":105,"m":-0.0009},{"i":106,"m":-0.001},{"i":107,"m":-0.001},{"i":108,"m":-0.0014},{"i":109,"m":-0.0016},{"i":110,"m":-0.0018},{"i":111,"m":-0.0018},{"i":112,"m":-0.0019},{"i":113,"m":-0.002},{"i":114,"m":-0.0019},{"i":115,"m":-0.0017},{"i":116,"m":-0.0016},{"i":117,"m":-0.0014},{"i":118,"m":-0.0013},{"i":119,"m":-0.001},{"i":120,"m":-0.0007},{"i":121,"m":-0.0005},{"i":122,"m":-0.0003},{"i":123,"m":-0.0001},{"i":124,"m":0.0003},{"i":125,"m":0.0004},{"i":126,"m":0.0005},{"i":127,"m":0.0005},{"i":128,"m":0.0006},{"i":129,"m":0.0006},{"i":130,"m":0.0008},{"i":131,"m":0.0009},{"i":132,"m":0.0008},{"i":133,"m":0.0006},{"i":134,"m":0.0004},{"i":135,"m":0.0002},{"i":136,"m":-0.0001},{"i":137,"m":0},{"i":138,"m":0.0001},{"i":139,"m":0.0002},{"i":140,"m":0.0003},{"i":141,"m":0.0002},{"i":142,"m":0.0003},{"i":143,"m":0.0003},{"i":144,"m":0.0003},{"i":145,"m":0.0004},{"i":146,"m":0.0004},{"i":147,"m":0.0003},{"i":148,"m":0.0003},{"i":149,"m":0.0002},{"i":150,"m":0.0002},{"i":151,"m":0.0001},{"i":152,"m":0.0001},{"i":153,"m":0.0001},{"i":154,"m":-0.0003},{"i":155,"m":-0.0004},{"i":156,"m":-0.0005},{"i":157,"m":-0.0005},{"i":158,"m":-0.0006},{"i":159,"m":-0.0005},{"i":160,"m":-0.0005},{"i":161,"m":-0.0005},{"i":162,"m":-0.0006},{"i":163,"m":-0.0005},{"i":164,"m":-0.0004},{"i":165,"m":-0.0005},{"i":166,"m":-0.0007},{"i":167,"m":-0.0009},{"i":168,"m":-0.001},{"i":169,"m":-0.0009},{"i":170,"m":-0.0006},{"i":171,"m":-0.0007},{"i":172,"m":-0.0009},{"i":173,"m":-0.0012},{"i":174,"m":-0.0012},{"i":175,"m":-0.0012},{"i":176,"m":-0.0011},{"i":177,"m":-0.0011},{"i":178,"m":-0.0014},{"i":179,"m":-0.0017},{"i":180,"m":-0.0018},{"i":181,"m":-0.0016},{"i":182,"m":-0.0015},{"i":183,"m":-0.0012},{"i":184,"m":-0.0011},{"i":185,"m":-0.0009},{"i":186,"m":-0.0006},{"i":187,"m":-0.0003},{"i":188,"m":0},{"i":189,"m":0.0004},{"i":190,"m":0.0009},{"i":191,"m":0.0011},{"i":192,"m":0.0013},{"i":193,"m":0.0018},{"i":194,"m":0.0019},{"i":195,"m":0.0019},{"i":196,"m":0.002},{"i":197,"m":0.0019},{"i":198,"m":0.002},{"i":199,"m":0.0021},{"i":200,"m":0.002},{"i":201,"m":0.0018},{"i":202,"m":0.0015},{"i":203,"m":0.0012},{"i":204,"m":0.001},{"i":205,"m":0.0007},{"i":206,"m":0.0006},{"i":207,"m":0.0004},{"i":208,"m":0.0003},{"i":209,"m":0.0001},{"i":210,"m":-0.0001},{"i":211,"m":-0.0002},{"i":212,"m":-0.0004},{"i":213,"m":-0.0005},{"i":214,"m":-0.0005},{"i":215,"m":-0.0004},{"i":216,"m":-0.0002},{"i":217,"m":0},{"i":218,"m":0.0001},{"i":219,"m":0.0001},{"i":220,"m":0},{"i":221,"m":0.0001},{"i":222,"m":0.0002},{"i":223,"m":0.0002},{"i":224,"m":0.0003},{"i":225,"m":0.0004},{"i":226,"m":0.0006},{"i":227,"m":0.0006},{"i":228,"m":0.0005},{"i":229,"m":0.0005},{"i":230,"m":0.0003},{"i":231,"m":0.0001},{"i":232,"m":0.0001},{"i":233,"m":0},{"i":234,"m":-0.0002},{"i":235,"m":-0.0002},{"i":236,"m":-0.0003},{"i":237,"m":-0.0004},{"i":238,"m":-0.0003},{"i":239,"m":0},{"i":240,"m":0.0002},{"i":241,"m":0.0003},{"i":242,"m":0.0003},{"i":243,"m":0.0002},{"i":244,"m":0},{"i":245,"m":-0.0002},{"i":246,"m":-0.0002},{"i":247,"m":-0.0003},{"i":248,"m":-0.0002},{"i":249,"m":-0.0003},{"i":250,"m":-0.0008},{"i":251,"m":-0.0007},{"i":252,"m":-0.0008},{"i":253,"m":-0.0008},{"i":254,"m":-0.001},{"i":255,"m":-0.0011},{"i":256,"m":-0.0012},{"i":257,"m":-0.0012},{"i":258,"m":-0.0013},{"i":259,"m":-0.0012},{"i":260,"m":-0.0011},{"i":261,"m":-0.001},{"i":262,"m":-0.0009},{"i":263,"m":-0.0007},{"i":264,"m":-0.0005},{"i":265,"m":-0.0004},{"i":266,"m":-0.0002},{"i":267,"m":-0.0001},{"i":268,"m":0},{"i":269,"m":0.0001},{"i":270,"m":0.0001},{"i":271,"m":0.0002},{"i":272,"m":0.0003},{"i":273,"m":0.0003},{"i":274,"m":0.0003},{"i":275,"m":0.0004},{"i":276,"m":0.0004},{"i":277,"m":0.0004},{"i":278,"m":0.0004},{"i":279,"m":0.0005},{"i":280,"m":0.0005},{"i":281,"m":0.0006},{"i":282,"m":0.0007},{"i":283,"m":0.0006},{"i":284,"m":0.0004},{"i":285,"m":0.0003},{"i":286,"m":0},{"i":287,"m":-0.0003},{"i":288,"m":-0.0007},{"i":289,"m":-0.0008},{"i":290,"m":-0.0008},{"i":291,"m":-0.0007},{"i":292,"m":-0.0006},{"i":293,"m":-0.0005},{"i":294,"m":-0.0003},{"i":295,"m":-0.0002},{"i":296,"m":0},{"i":297,"m":0},{"i":298,"m":0.0001},{"i":299,"m":0.0002},{"i":300,"m":0.0002},{"i":301,"m":0.0002},{"i":302,"m":0.0002},{"i":303,"m":0.0002},{"i":304,"m":0.0005},{"i":305,"m":0.0015},{"i":306,"m":0.0024},{"i":307,"m":0.0028},{"i":308,"m":0.0031},{"i":309,"m":0.0038},{"i":310,"m":0.0045},{"i":311,"m":0.0046},{"i":312,"m":0.0045},{"i":313,"m":0.0043},{"i":314,"m":0.004},{"i":315,"m":0.0035},{"i":316,"m":0.0028},{"i":317,"m":0.0018},{"i":318,"m":0.001}],
"macd":[{"i":0,"v":-0.0003},{"i":15,"v":0},{"i":29.5,"v":-0.0005},{"i":44.4,"v":0},{"i":51,"v":-0.0006},{"i":52.7,"v":0.0029},{"i":54.8,"v":0.0069},{"i":57.8,"v":0.009},{"i":60.8,"v":0.0083},{"i":65.3,"v":0.0064},{"i":71.3,"v":0.0053},{"i":77.2,"v":0.0048},{"i":81.7,"v":0.0045},{"i":86.2,"v":0.0032},{"i":92.1,"v":0.0032},{"i":98.1,"v":0.0029},{"i":102.6,"v":0.0013},{"i":108.6,"v":-0.0011},{"i":114.5,"v":-0.0029},{"i":119,"v":-0.0027},{"i":125,"v":-0.0011},{"i":131,"v":0.0005},{"i":136.9,"v":0.0008},{"i":142.9,"v":0.001},{"i":148.9,"v":0.0016},{"i":154.8,"v":0.0013},{"i":160.8,"v":-0.0003},{"i":166.8,"v":-0.0011},{"i":172.7,"v":-0.0019},{"i":178.7,"v":-0.0038},{"i":183.2,"v":-0.0048},{"i":187.7,"v":-0.0035},{"i":192.1,"v":-0.0003},{"i":196.6,"v":0.0021},{"i":201.1,"v":0.0016},{"i":205.6,"v":0.0005},{"i":211.5,"v":-0.0003},{"i":217.5,"v":0},{"i":223.5,"v":0.0005},{"i":229.5,"v":0.001},{"i":235.4,"v":0.0005},{"i":241.4,"v":0.0008},{"i":247.4,"v":0},{"i":251.8,"v":-0.0019},{"i":256.3,"v":-0.0024},{"i":260.8,"v":-0.0019},{"i":268.3,"v":-0.0008},{"i":277.2,"v":0.0005},{"i":283.2,"v":0.0016},{"i":287.7,"v":-0.0003},{"i":293.7,"v":-0.0003},{"i":301.1,"v":0.0003},{"i":304.1,"v":0.0013},{"i":307.1,"v":0.0045},{"i":311.6,"v":0.0077},{"i":314.6,"v":0.0088},{"i":316.6,"v":0.0083},{"i":318.4,"v":0.0077}],
"sig":[{"i":0,"v":-0.0002},{"i":14.5,"v":-0.0002},{"i":29.5,"v":-0.0003},{"i":44.4,"v":-0.0002},{"i":51.8,"v":-0.0003},{"i":56.3,"v":0.0037},{"i":62.3,"v":0.0069},{"i":68.3,"v":0.0074},{"i":74.2,"v":0.0069},{"i":80.2,"v":0.0061},{"i":89.2,"v":0.0045},{"i":98.1,"v":0.0037},{"i":107.1,"v":0.0005},{"i":116,"v":-0.0022},{"i":122,"v":-0.0027},{"i":131,"v":-0.0008},{"i":139.9,"v":0.0005},{"i":151.8,"v":0.0013},{"i":160.8,"v":0.0005},{"i":169.8,"v":-0.0006},{"i":178.7,"v":-0.0024},{"i":184.7,"v":-0.0038},{"i":192.1,"v":-0.0024},{"i":199.6,"v":0.0003},{"i":208.6,"v":0.0003},{"i":217.5,"v":-0.0003},{"i":226.5,"v":0.0003},{"i":238.4,"v":0.0005},{"i":250.4,"v":-0.0008},{"i":259.3,"v":-0.0019},{"i":268.3,"v":-0.0014},{"i":277.2,"v":-0.0003},{"i":286.2,"v":0.0005},{"i":295.1,"v":0},{"i":304.1,"v":0.0008},{"i":311.6,"v":0.0053},{"i":316,"v":0.008},{"i":318.4,"v":0.0077}],
"arrup":[{"i":3.2,"v":-0.0019},{"i":6.2,"v":-0.0019},{"i":16,"v":-0.0014},{"i":28,"v":-0.0019},{"i":31.2,"v":-0.0019},{"i":36,"v":-0.0024},{"i":47.4,"v":-0.0006},{"i":51,"v":-0.0003},{"i":84.7,"v":0.0038},{"i":89.2,"v":0.0036},{"i":94.5,"v":0.0036}],
"arrdn":[{"i":80.2,"v":0.0066},{"i":99,"v":0.0042},{"i":200.2,"v":0.0034},{"i":219.6,"v":0.0012},{"i":227,"v":0.0026},{"i":282.6,"v":0.0034}]
},
"vconcat":[
{"width":1165,"height":517,
"resolve":{"axis":{"x":"independent","y":"independent"}},
"layer":[
{"data":{"name":"zones"},"mark":{"type":"rect","color":"#90ee90","clip":true},"encoding":{"x":{"field":"x1","type":"quantitative","scale":{"domain":[-0.4,347.4],"nice":false,"zero":false,"padding":0},"axis":null},"x2":{"field":"x2"},"y":{"field":"y1","type":"quantitative","title":null,"scale":{"domain":[1.04825,1.1258],"nice":false,"zero":false},"axis":{"orient":"right","title":null,"values":[1.0484,1.0526,1.0568,1.0609,1.0651,1.0693,1.0735,1.0777,1.0819,1.086,1.0902,1.0944,1.0986,1.1028,1.1069,1.1111,1.1195,1.1237],"format":".5f","tickSize":3,"labelFontSize":7.5,"labelPadding":1,"labelFlush":false}},"y2":{"field":"y2"}}},
{"data":{"name":"c"},"mark":{"type":"rule","strokeWidth":1,"opacity":0.85,"clip":true},"encoding":{"x":{"field":"i","type":"quantitative","scale":{"domain":[-0.4,347.4],"nice":false,"zero":false,"padding":0},"axis":null},"y":{"field":"l","type":"quantitative","scale":{"domain":[1.04825,1.1258],"nice":false,"zero":false},"axis":null},"y2":{"field":"h"},"color":{"condition":{"test":"datum.c >= datum.o","value":"#1f8f1f"},"value":"#e8161c"}}},
{"data":{"name":"c"},"mark":{"type":"bar","size":2.2,"clip":true},"encoding":{"x":{"field":"i","type":"quantitative","scale":{"domain":[-0.4,347.4],"nice":false,"zero":false,"padding":0},"axis":null},"y":{"field":"o","type":"quantitative","scale":{"domain":[1.04825,1.1258],"nice":false,"zero":false},"axis":null},"y2":{"field":"c"},"color":{"condition":{"test":"datum.c >= datum.o","value":"#128a12"},"value":"#e8161c"}}},
{"data":{"name":"mar"},"mark":{"type":"line","color":"#e41414","strokeWidth":2.5,"clip":true},"encoding":{"x":{"field":"i","type":"quantitative","scale":{"domain":[-0.4,347.4],"nice":false,"zero":false,"padding":0},"axis":null},"y":{"field":"p","type":"quantitative","scale":{"domain":[1.04825,1.1258],"nice":false,"zero":false},"axis":null}}},
{"data":{"name":"mag"},"mark":{"type":"line","color":"#2e8b2e","strokeWidth":2.5,"clip":true},"encoding":{"x":{"field":"i","type":"quantitative","scale":{"domain":[-0.4,347.4],"nice":false,"zero":false,"padding":0},"axis":null},"y":{"field":"p","type":"quantitative","scale":{"domain":[1.04825,1.1258],"nice":false,"zero":false},"axis":null}}},
{"data":{"name":"chb"},"mark":{"type":"rule","color":"#0a0ad2","strokeWidth":2.6,"clip":true},"encoding":{"x":{"field":"x1","type":"quantitative","scale":{"domain":[-0.4,347.4],"nice":false,"zero":false,"padding":0},"axis":null},"x2":{"field":"x2"},"y":{"field":"y1","type":"quantitative","scale":{"domain":[1.04825,1.1258],"nice":false,"zero":false},"axis":null},"y2":{"field":"y2"}}},
{"data":{"name":"chg"},"mark":{"type":"rule","color":"#45cc45","strokeWidth":2,"clip":true},"encoding":{"x":{"field":"x1","type":"quantitative","scale":{"domain":[-0.4,347.4],"nice":false,"zero":false,"padding":0},"axis":null},"x2":{"field":"x2"},"y":{"field":"y1","type":"quantitative","scale":{"domain":[1.04825,1.1258],"nice":false,"zero":false},"axis":null},"y2":{"field":"y2"}}},
{"data":{"values":[{"p":1.11538}]},"mark":{"type":"rule","color":"#8a8a8a","strokeWidth":1},"encoding":{"y":{"field":"p","type":"quantitative","scale":{"domain":[1.04825,1.1258],"nice":false,"zero":false},"axis":null}}},
{"data":{"values":[{"x1":316.6,"x2":318.6,"y1":1.11828,"y2":1.124}]},"mark":{"type":"rect","color":"#f7c3a0","opacity":0.85},"encoding":{"x":{"field":"x1","type":"quantitative","scale":{"domain":[-0.4,347.4],"nice":false,"zero":false,"padding":0},"axis":null},"x2":{"field":"x2"},"y":{"field":"y1","type":"quantitative","scale":{"domain":[1.04825,1.1258],"nice":false,"zero":false},"axis":null},"y2":{"field":"y2"}}},
{"data":{"name":"zcon"},"mark":{"type":"rule","color":"#a6e4a6","strokeWidth":1},"encoding":{"x":{"field":"x1","type":"quantitative","scale":{"domain":[-0.4,347.4],"nice":false,"zero":false,"padding":0},"axis":null},"x2":{"field":"x2"},"y":{"field":"p","type":"quantitative","scale":{"domain":[1.04825,1.1258],"nice":false,"zero":false},"axis":null}}},
{"data":{"name":"ocon"},"mark":{"type":"rule","color":"#f8cfb4","strokeWidth":1},"encoding":{"x":{"field":"x1","type":"quantitative","scale":{"domain":[-0.4,347.4],"nice":false,"zero":false,"padding":0},"axis":null},"x2":{"field":"x2"},"y":{"field":"p","type":"quantitative","scale":{"domain":[1.04825,1.1258],"nice":false,"zero":false},"axis":null}}},
{"data":{"name":"zbox"},"mark":{"type":"rect","fill":"#ffffff","stroke":"#a6e4a6","strokeWidth":1},"encoding":{"x":{"field":"x1","type":"quantitative","scale":{"domain":[-0.4,347.4],"nice":false,"zero":false,"padding":0},"axis":null},"x2":{"field":"x2"},"y":{"field":"y1","type":"quantitative","scale":{"domain":[1.04825,1.1258],"nice":false,"zero":false},"axis":null},"y2":{"field":"y2"}}},
{"data":{"name":"obox"},"mark":{"type":"rect","fill":"#ffffff","stroke":"#f8cfb4","strokeWidth":1},"encoding":{"x":{"field":"x1","type":"quantitative","scale":{"domain":[-0.4,347.4],"nice":false,"zero":false,"padding":0},"axis":null},"x2":{"field":"x2"},"y":{"field":"y1","type":"quantitative","scale":{"domain":[1.04825,1.1258],"nice":false,"zero":false},"axis":null},"y2":{"field":"y2"}}},
{"data":{"name":"zlab"},"mark":{"type":"text","align":"left","baseline":"middle","fontSize":8.5,"color":"#8fd88f","dx":1},"encoding":{"x":{"field":"i","type":"quantitative","scale":{"domain":[-0.4,347.4],"nice":false,"zero":false,"padding":0},"axis":null},"y":{"field":"p","type":"quantitative","scale":{"domain":[1.04825,1.1258],"nice":false,"zero":false},"axis":null},"text":{"field":"t"}}},
{"data":{"name":"olab"},"mark":{"type":"text","align":"left","baseline":"middle","fontSize":8.5,"color":"#f3b48c","dx":1},"encoding":{"x":{"field":"i","type":"quantitative","scale":{"domain":[-0.4,347.4],"nice":false,"zero":false,"padding":0},"axis":null},"y":{"field":"p","type":"quantitative","scale":{"domain":[1.04825,1.1258],"nice":false,"zero":false},"axis":null},"text":{"field":"t"}}},
{"data":{"values":[{"i":163.8,"p":1.1175,"t":"EURUSD - H4"}]},"mark":{"type":"text","align":"center","baseline":"middle","fontSize":27,"color":"#000000","font":"Liberation Sans"},"encoding":{"x":{"field":"i","type":"quantitative","scale":{"domain":[-0.4,347.4],"nice":false,"zero":false,"padding":0},"axis":null},"y":{"field":"p","type":"quantitative","scale":{"domain":[1.04825,1.1258],"nice":false,"zero":false},"axis":null},"text":{"field":"t"}}},
{"data":{"values":[{"x1":347.6,"x2":358,"y1":1.11448,"y2":1.11628}]},"mark":{"type":"rect","color":"#000000"},"encoding":{"x":{"field":"x1","type":"quantitative","scale":{"domain":[-0.4,347.4],"nice":false,"zero":false,"padding":0},"axis":null},"x2":{"field":"x2"},"y":{"field":"y1","type":"quantitative","scale":{"domain":[1.04825,1.1258],"nice":false,"zero":false},"axis":null},"y2":{"field":"y2"}}},
{"data":{"values":[{"i":348.5,"p":1.11538,"t":"1.11538"}]},"mark":{"type":"text","align":"left","baseline":"middle","fontSize":7.5,"color":"#ffffff"},"encoding":{"x":{"field":"i","type":"quantitative","scale":{"domain":[-0.4,347.4],"nice":false,"zero":false,"padding":0},"axis":null},"y":{"field":"p","type":"quantitative","scale":{"domain":[1.04825,1.1258],"nice":false,"zero":false},"axis":null},"text":{"field":"t"}}}
]},
{"width":1165,"height":106,
"resolve":{"axis":{"x":"independent","y":"independent"}},
"layer":[
{"data":{"values":[{"v":70},{"v":50},{"v":30}]},"mark":{"type":"rule","strokeDash":[2,3],"color":"#a8a8a8","strokeWidth":1},"encoding":{"y":{"field":"v","type":"quantitative","title":null,"scale":{"domain":[-5.3,106.3],"nice":false,"zero":false},"axis":{"orient":"right","title":null,"values":[0,30,50,70,100],"format":"d","tickSize":3,"labelFontSize":7.5,"labelPadding":1,"labelFlush":false}}}},
{"data":{"name":"rsis"},"mark":{"type":"line","color":"#e01010","strokeWidth":1.6,"clip":true},"encoding":{"x":{"field":"i","type":"quantitative","scale":{"domain":[-0.4,347.4],"nice":false,"zero":false,"padding":0},"axis":null},"y":{"field":"v","type":"quantitative","scale":{"domain":[-5.3,106.3],"nice":false,"zero":false},"axis":null}}},
{"data":{"name":"rsi"},"mark":{"type":"line","color":"#0a0ad0","strokeWidth":1.4,"clip":true},"encoding":{"x":{"field":"i","type":"quantitative","scale":{"domain":[-0.4,347.4],"nice":false,"zero":false,"padding":0},"axis":null},"y":{"field":"v","type":"quantitative","scale":{"domain":[-5.3,106.3],"nice":false,"zero":false},"axis":null}}}
]},
{"width":1165,"height":100,
"resolve":{"axis":{"x":"independent","y":"independent"}},
"layer":[
{"data":{"values":[{"v":0}]},"mark":{"type":"rule","strokeDash":[2,3],"color":"#a8a8a8","strokeWidth":1},"encoding":{"y":{"field":"v","type":"quantitative","title":null,"scale":{"domain":[-0.00577,0.009078],"nice":false,"zero":false},"axis":{"orient":"right","title":null,"values":[-0.00577,0,0.009078],"labelExpr":"datum.value == 0 ? '0.00' : toString(datum.value)","tickSize":3,"labelFontSize":7,"labelPadding":1,"labelFlush":true}}}},
{"data":{"name":"hist"},"mark":{"type":"bar","size":2.2,"color":"#0000f0","clip":true},"encoding":{"x":{"field":"i","type":"quantitative","title":null,"scale":{"domain":[-0.4,347.4],"nice":false,"zero":false,"padding":0},"axis":{"orient":"bottom","title":null,"values":[1,17,33,49,65,81,97,113,129,145,161,177,193,209,225,241,257,273,289,305],"labelExpr":"['23 Nov 00:00','25 Nov 16:00','30 Nov 08:00','3 Dec 00:00','7 Dec 16:00','10 Dec 08:00','15 Dec 00:00','17 Dec 16:00','22 Dec 08:00','28 Dec 00:00','30 Dec 16:00','5 Jan 08:00','8 Jan 00:00','12 Jan 16:00','15 Jan 08:00','20 Jan 00:00','22 Jan 16:00','27 Jan 08:00','1 Feb 00:00','3 Feb 16:00'][(datum.value-1)/16]","tickSize":3,"labelFontSize":7,"labelAlign":"left","labelPadding":1,"labelDx":2,"labelFlush":false,"labelOverlap":false}},"y":{"field":"m","type":"quantitative","scale":{"domain":[-0.00577,0.009078],"nice":false,"zero":false},"axis":null},"y2":{"datum":0}}},
{"data":{"name":"sig"},"mark":{"type":"line","color":"#e01010","strokeWidth":1.8,"clip":true},"encoding":{"x":{"field":"i","type":"quantitative","scale":{"domain":[-0.4,347.4],"nice":false,"zero":false,"padding":0},"axis":null},"y":{"field":"v","type":"quantitative","scale":{"domain":[-0.00577,0.009078],"nice":false,"zero":false},"axis":null}}},
{"data":{"name":"macd"},"mark":{"type":"line","color":"#3a9cf0","strokeWidth":1.6,"clip":true},"encoding":{"x":{"field":"i","type":"quantitative","scale":{"domain":[-0.4,347.4],"nice":false,"zero":false,"padding":0},"axis":null},"y":{"field":"v","type":"quantitative","scale":{"domain":[-0.00577,0.009078],"nice":false,"zero":false},"axis":null}}},
{"data":{"name":"arrup"},"mark":{"type":"text","text":"↑","fontSize":10,"fontWeight":"bold","color":"#33dd33","baseline":"middle","font":"DejaVu Sans"},"encoding":{"x":{"field":"i","type":"quantitative","scale":{"domain":[-0.4,347.4],"nice":false,"zero":false,"padding":0},"axis":null},"y":{"field":"v","type":"quantitative","scale":{"domain":[-0.00577,0.009078],"nice":false,"zero":false},"axis":null}}},
{"data":{"name":"arrdn"},"mark":{"type":"text","text":"↓","fontSize":10,"fontWeight":"bold","color":"#e82020","baseline":"middle","font":"DejaVu Sans"},"encoding":{"x":{"field":"i","type":"quantitative","scale":{"domain":[-0.4,347.4],"nice":false,"zero":false,"padding":0},"axis":null},"y":{"field":"v","type":"quantitative","scale":{"domain":[-0.00577,0.009078],"nice":false,"zero":false},"axis":null}}}
]}
]
}
